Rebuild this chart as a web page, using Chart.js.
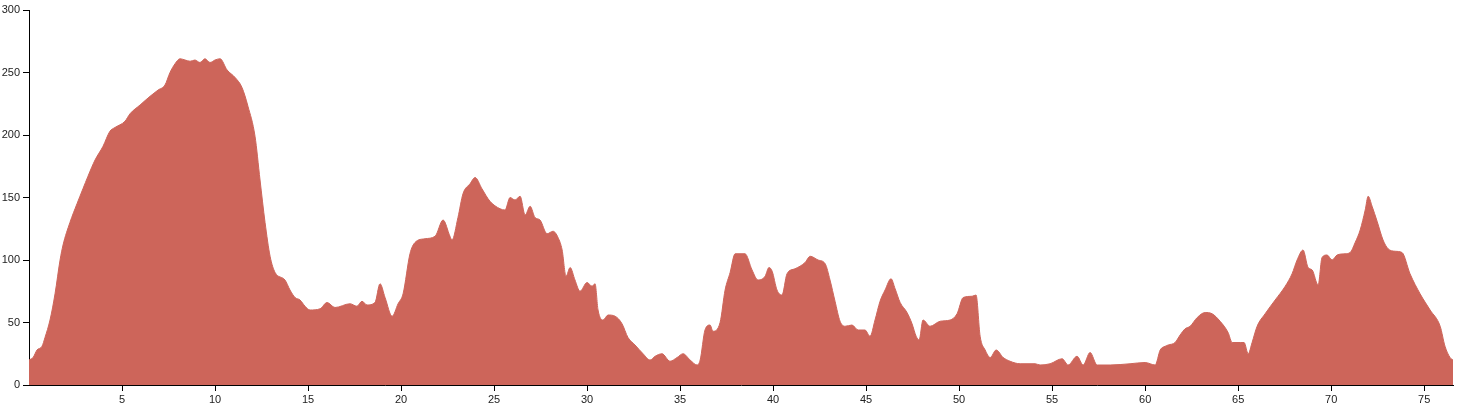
<!DOCTYPE html>
<html>
<head>
<meta charset="utf-8">
<script src="https://cdn.jsdelivr.net/npm/chart.js@4/dist/chart.umd.min.js"></script>
<style>
html,body{margin:0;padding:0;background:#fff;}
#wrap{width:1460px;height:408px;}
</style>
</head>
<body>
<div id="wrap"><canvas id="c" width="1460" height="408"></canvas></div>
<script>
// Distance along route (km)
const distanceKm = [
0,0.22,0.43,0.70,0.86,1.13,1.40,1.67,1.83,2.20,2.58,2.90,3.17,3.55,3.98,4.35,4.62,5.16,5.43,5.97,
6.51,6.94,7.31,7.58,7.85,8.12,8.39,8.66,8.92,9.19,9.46,9.73,10.00,10.27,10.65,11.08,11.45,11.77,12.15,12.42,
12.69,12.96,13.23,13.76,14.03,14.30,14.57,14.84,15.11,15.65,16.02,16.45,17.26,17.63,17.90,18.17,18.60,18.87,19.14,19.52,
19.84,20.11,20.48,20.75,21.29,21.83,22.26,22.63,22.74,23.06,23.33,23.71,23.98,24.35,24.78,25.32,25.59,25.86,26.13,26.40,
26.67,26.94,27.20,27.47,27.85,28.17,28.44,28.66,28.87,29.09,29.35,29.62,30.00,30.27,30.43,30.59,30.86,31.13,31.51,31.88,
32.20,32.58,33.01,33.39,33.66,34.03,34.46,34.84,35.16,35.54,35.91,36.08,36.34,36.61,36.77,37.15,37.42,37.69,37.96,38.49,
38.87,39.19,39.57,39.78,39.95,40.21,40.48,40.75,41.18,41.72,41.99,42.42,42.80,43.06,43.33,43.60,43.87,44.24,44.57,44.94,
45.21,45.48,45.75,46.02,46.34,46.56,46.83,47.20,47.47,47.69,47.85,48.06,48.44,48.98,49.52,49.89,50.22,50.70,50.91,51.13,
51.40,51.67,51.99,52.37,52.74,53.28,54.09,54.35,54.89,55.54,55.86,56.34,56.67,57.04,57.42,58.12,59.19,60.00,60.54,60.81,
61.08,61.24,61.61,61.88,62.15,62.42,62.80,63.23,63.60,64.03,64.46,64.68,65.11,65.32,65.54,65.75,66.02,66.45,66.99,67.53,
67.90,68.17,68.49,68.76,68.98,69.30,69.51,69.78,70.05,70.32,70.75,71.02,71.29,71.56,71.83,71.99,72.20,72.47,72.79,73.06,
73.44,73.81,74.24,74.78,75.32,75.86,76.12,76.39,76.55
];
// Elevation (m)
const elevation = [
20,22,28,31,38,52,73,100,112,130,145,157,167,180,191,203,206,211,217,224,
231,236,240,250,257,261,260,259,260,258,261,258,260,261,252,246,238,223,199,164,
130,103,90,84,76,70,68,63,60,61,66,62,65,63,67,64,66,81,70,55,
65,73,105,114,117,119,132,119,116,134,153,161,166,157,147,141,140,150,148,151,
136,143,134,132,121,123,118,108,87,94,84,75,82,79,81,60,52,56,55,49,
38,32,25,20,23,25,19,22,25,20,16,20,44,48,43,50,76,90,105,105,
92,84,87,94,91,76,72,89,93,98,103,100,97,84,67,51,47,48,44,44,
39,52,67,76,85,77,66,58,49,39,36,52,47,51,52,57,70,71,72,39,
28,22,28,22,19,17,17,16,17,21,16,23,16,26,16,16,17,18,16,28,
31,32,34,40,45,47,54,58,57,51,42,34,34,34,25,34,47,57,68,79,
89,100,108,94,92,80,102,104,100,104,105,106,114,124,140,151,143,131,116,109,
107,106,89,73,60,47,31,22,20
];
const xTicks = [5,10,15,20,25,30,35,40,45,50,55,60,65,70,75];
const yTicks = [0,50,100,150,200,250,300];

const points = distanceKm.map((d,i)=>({x:d,y:elevation[i]}));
const tickFont = {family:"'Liberation Sans', Arial, sans-serif", size:11};

new Chart(document.getElementById('c'), {
  type:'line',
  data:{datasets:[{
    data:points,
    fill:'origin',
    backgroundColor:'rgb(205,101,90)',
    borderColor:'rgb(205,101,90)',
    borderWidth:1,
    pointRadius:0,
    cubicInterpolationMode:'monotone'
  }]},
  options:{
    responsive:false,
    animation:false,
    layout:{padding:{left:0,right:7,top:10,bottom:0}},
    plugins:{legend:{display:false},tooltip:{enabled:false}},
    scales:{
      x:{
        type:'linear',min:0,max:76.55,
        afterBuildTicks:(ax)=>{ax.ticks = xTicks.map(v=>({value:v}));},
        afterFit:(ax)=>{ax.height=23;},
        grid:{drawOnChartArea:false,drawTicks:true,tickLength:6,color:'#000'},
        border:{display:true,color:'#000',width:1},
        ticks:{font:tickFont,color:'#222',padding:2,maxRotation:0,autoSkip:false}
      },
      y:{
        min:0,max:300,
        afterBuildTicks:(ax)=>{ax.ticks = yTicks.map(v=>({value:v}));},
        afterFit:(ax)=>{ax.width=29;},
        grid:{drawOnChartArea:false,drawTicks:true,tickLength:6,color:'#000'},
        border:{display:true,color:'#000',width:1},
        ticks:{font:tickFont,color:'#222',padding:3}
      }
    }
  }
});
</script>
</body>
</html>
